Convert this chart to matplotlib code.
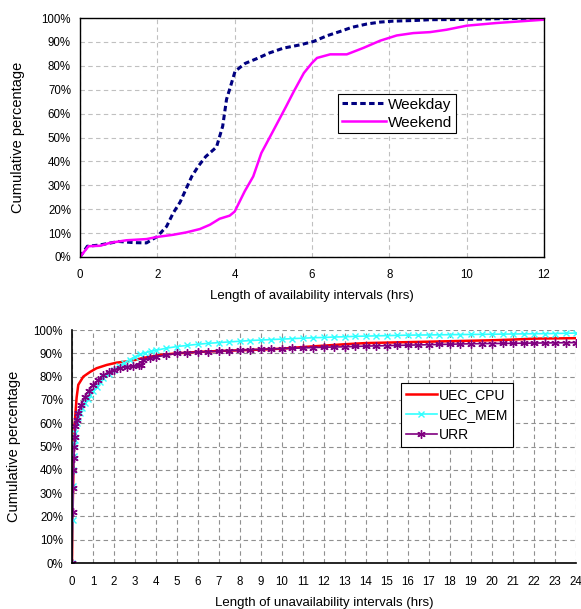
import numpy as np
import matplotlib
matplotlib.use("Agg")
import matplotlib.pyplot as plt
from matplotlib.ticker import PercentFormatter

plt.rcParams['font.family'] = ['Liberation Sans', 'DejaVu Sans']

# top chart: availability intervals
weekday_x = [0, 0.19, 0.5, 1.0, 1.4, 1.72, 2.0, 2.24, 2.41, 2.59, 2.73, 2.89, 3.06, 3.25,
             3.53, 3.69, 3.79, 3.88, 4.01, 4.27, 4.57, 4.9, 5.26, 5.7, 6.04, 6.39, 6.73,
             7.03, 7.42, 7.76, 8.1, 8.7, 9.05, 9.9, 10.76, 12]
weekday_y = [0, 4.5, 5, 6.5, 6, 5.9, 8.6, 12.8, 18.4, 23, 28, 33.7, 38, 42,
             46, 54.7, 66, 70.7, 77.7, 81, 83, 85.4, 87.4, 88.8, 90.2, 92.6, 94.4,
             96.1, 97.5, 98.3, 98.7, 99, 99.3, 99.4, 99.7, 100]

weekend_x = [0, 0.22, 0.52, 0.77, 1.2, 1.72, 2.0, 2.41, 2.75, 3.1, 3.36, 3.61, 3.87, 4.0,
             4.26, 4.48, 4.69, 4.99, 5.33, 5.53, 5.79, 6.0, 6.13, 6.47, 6.9, 7.33, 7.76,
             8.19, 8.62, 9.05, 9.48, 10.0, 10.76, 12]
weekend_y = [0, 4.5, 4.7, 5.9, 7, 7.5, 8.4, 9.3, 10.3, 11.7, 13.5, 16, 17.3, 19,
             27.5, 33.7, 43.5, 52.6, 63, 69.3, 77, 81.2, 83.3, 84.8, 84.8, 87.5, 90.5,
             92.7, 93.7, 94.1, 95.1, 96.8, 97.9, 99.3]

# bottom chart: unavailability intervals
cpu_x = [0, 0.03, 0.05, 0.08, 0.1, 0.14, 0.22, 0.3, 0.54, 0.86, 1.17, 1.65, 2.13, 2.6,
         3, 3.4, 4.2, 5, 6, 7, 8, 9, 10, 11, 12, 13, 14, 15, 16, 17, 18, 19, 20, 21,
         22, 23, 24]
cpu_y = [0, 22, 31, 45, 52, 61, 71, 76.5, 80, 82, 83.6, 85, 86, 86.5,
         87.2, 88, 89.3, 90, 90.6, 91, 91.3, 91.6, 92, 92.7, 93.3, 93.9, 94.4, 94.6,
         94.8, 95, 95.2, 95.4, 95.6, 95.9, 96.3, 96.4, 96.5]

mem_x = [0, 0.03, 0.05, 0.07, 0.09, 0.11, 0.13, 0.16, 0.22, 0.3,
         0.38, 0.5, 0.62, 0.75, 0.86, 1.0, 1.17, 1.33, 1.5, 1.75,
         2.0, 2.25, 2.5, 2.75, 3.0, 3.25, 3.5, 3.75, 4.0, 4.5,
         5.0, 5.5, 6.0, 6.5, 7.0, 7.5, 8.0, 8.5, 9.0, 9.5, 10.0, 10.5, 11.0,
         11.5, 12.0, 12.5, 13.0, 13.5, 14.0, 14.5, 15.0, 15.5, 16.0, 16.5,
         17.0, 17.5, 18.0, 18.5, 19.0, 19.5, 20.0, 20.5, 21.0, 21.5, 22.0,
         22.5, 23.0, 23.5, 24.0]
mem_y = [0, 18.4, 33, 40, 46, 50.6, 53, 55.7, 60, 62.5,
         64.3, 66.5, 68.6, 70.5, 72, 73.8, 75.7, 77.5, 79.3, 81.2,
         83, 84.5, 86, 87.3, 88.6, 89.5, 90.3, 90.8, 91.3, 92.2,
         92.9, 93.4, 93.9, 94.3, 94.6, 94.9, 95.2, 95.5, 95.7, 95.9, 96.1, 96.3, 96.5,
         96.7, 96.8, 97.0, 97.1, 97.3, 97.4, 97.5, 97.6, 97.7, 97.8, 97.85,
         97.9, 97.95, 98.0, 98.05, 98.1, 98.15, 98.2, 98.25, 98.3, 98.35, 98.4,
         98.45, 98.5, 98.6, 98.7]

urr_x = [0, 0.03, 0.05, 0.07, 0.09, 0.11, 0.13, 0.16, 0.22, 0.3,
         0.45, 0.62, 0.8, 1.0, 1.25, 1.5, 1.75, 2.0, 2.3, 2.6,
         2.9, 3.2, 3.3, 3.4, 3.7, 4.0, 4.5,
         5.0, 5.5, 6.0, 6.5, 7.0, 7.5, 8.0, 8.5, 9.0, 9.5, 10.0, 10.5, 11.0,
         11.5, 12.0, 12.5, 13.0, 13.5, 14.0, 14.5, 15.0, 15.5, 16.0, 16.5,
         17.0, 17.5, 18.0, 18.5, 19.0, 19.5, 20.0, 20.5, 21.0, 21.5, 22.0,
         22.5, 23.0, 23.5, 24.0]
urr_y = [0, 22, 32, 40, 45, 50, 54, 58.6, 61.4, 64.3,
         68, 71.4, 74, 76.4, 78.5, 80.7, 82, 82.9, 83.6, 84.3,
         84.6, 85, 85.2, 87, 87.8, 88.5, 89.2,
         90, 90.3, 90.5, 90.7, 90.9, 91.1, 91.3, 91.5, 91.7, 91.85, 92, 92.15, 92.3,
         92.45, 92.6, 92.7, 92.8, 92.95, 93.1, 93.2, 93.3, 93.4, 93.5, 93.6,
         93.7, 93.8, 93.9, 94.0, 94.1, 94.15, 94.2, 94.25, 94.3, 94.35, 94.4,
         94.45, 94.5, 94.55, 94.6]

fig = plt.figure(figsize=(5.81, 6.09), dpi=100)

# ---- top
ax1 = fig.add_axes([0.1377, 0.578, 0.7986, 0.3924])
ax1.plot(weekday_x, weekday_y, color='#000080', lw=2.2, dashes=(1.8, 1.1), label='Weekday')
ax1.plot(weekend_x, weekend_y, color='#ff00ff', lw=1.8, label='Weekend')
ax1.set_xlim(0, 12)
ax1.set_ylim(0, 100)
ax1.set_xticks(range(0, 13, 2))
ax1.set_yticks(range(0, 101, 10))
ax1.yaxis.set_major_formatter(PercentFormatter(decimals=0))
ax1.grid(True, color='#c0c0c0', linestyle=(0, (4, 3)), lw=0.8)
ax1.tick_params(length=0, labelsize=8.3)
ax1.tick_params(axis='x', pad=9)
ax1.tick_params(axis='y', pad=6.5)
for s in ax1.spines.values():
    s.set_linewidth(1.0)
ax1.set_xlabel('Length of availability intervals (hrs)', fontsize=9.5)
ax1.set_ylabel('Cumulative percentage', fontsize=10.5)
ax1.xaxis.set_label_coords(0.5, -0.163)
ax1.yaxis.set_label_coords(-0.134, 0.5)
ax1.xaxis.label.set_va('center')
ax1.yaxis.label.set_va('center')
leg1 = ax1.legend(loc='upper left', bbox_to_anchor=(0.556, 0.682), fontsize=11,
                  fancybox=False, framealpha=1, edgecolor='black', handlelength=2.9,
                  borderpad=0.25, labelspacing=0.25, handletextpad=0.15, borderaxespad=0)
leg1.get_frame().set_linewidth(0.8)

# ---- bottom
ax2 = fig.add_axes([0.1239, 0.0755, 0.8675, 0.3826])
ax2.plot(cpu_x, cpu_y, color='#ff0000', lw=1.8, label='UEC_CPU')
ax2.plot(mem_x, mem_y, color='#33ffff', lw=1.2, marker='x', ms=5, mew=1.0, label='UEC_MEM')
ax2.plot(urr_x, urr_y, color='#800080', lw=1.2, marker=(6, 2, 0), ms=6, mew=1.0, label='URR')
ax2.set_xlim(0, 24)
ax2.set_ylim(0, 100)
ax2.set_xticks(range(0, 25))
ax2.set_yticks(range(0, 101, 10))
ax2.yaxis.set_major_formatter(PercentFormatter(decimals=0))
ax2.grid(True, color='#909090', linestyle=(0, (4, 3)), lw=0.8)
ax2.tick_params(length=0, labelsize=8.3)
ax2.tick_params(axis='x', pad=9)
ax2.tick_params(axis='y', pad=6.5)
ax2.spines['top'].set_visible(False)
ax2.spines['right'].set_visible(False)
ax2.spines['left'].set_linewidth(1.2)
ax2.spines['bottom'].set_linewidth(1.2)
ax2.set_xlabel('Length of unavailability intervals (hrs)', fontsize=9.5)
ax2.set_ylabel('Cumulative percentage', fontsize=10.5)
ax2.xaxis.set_label_coords(0.5, -0.172)
ax2.yaxis.set_label_coords(-0.115, 0.5)
ax2.xaxis.label.set_va('center')
ax2.yaxis.label.set_va('center')
leg2 = ax2.legend(loc='upper left', bbox_to_anchor=(0.653, 0.773), fontsize=10,
                  fancybox=False, framealpha=1, edgecolor='black', handlelength=2.2,
                  borderpad=0.35, labelspacing=0.45, handletextpad=0.15, borderaxespad=0)
leg2.get_frame().set_linewidth(0.8)

fig.savefig('out.png', dpi=100)
